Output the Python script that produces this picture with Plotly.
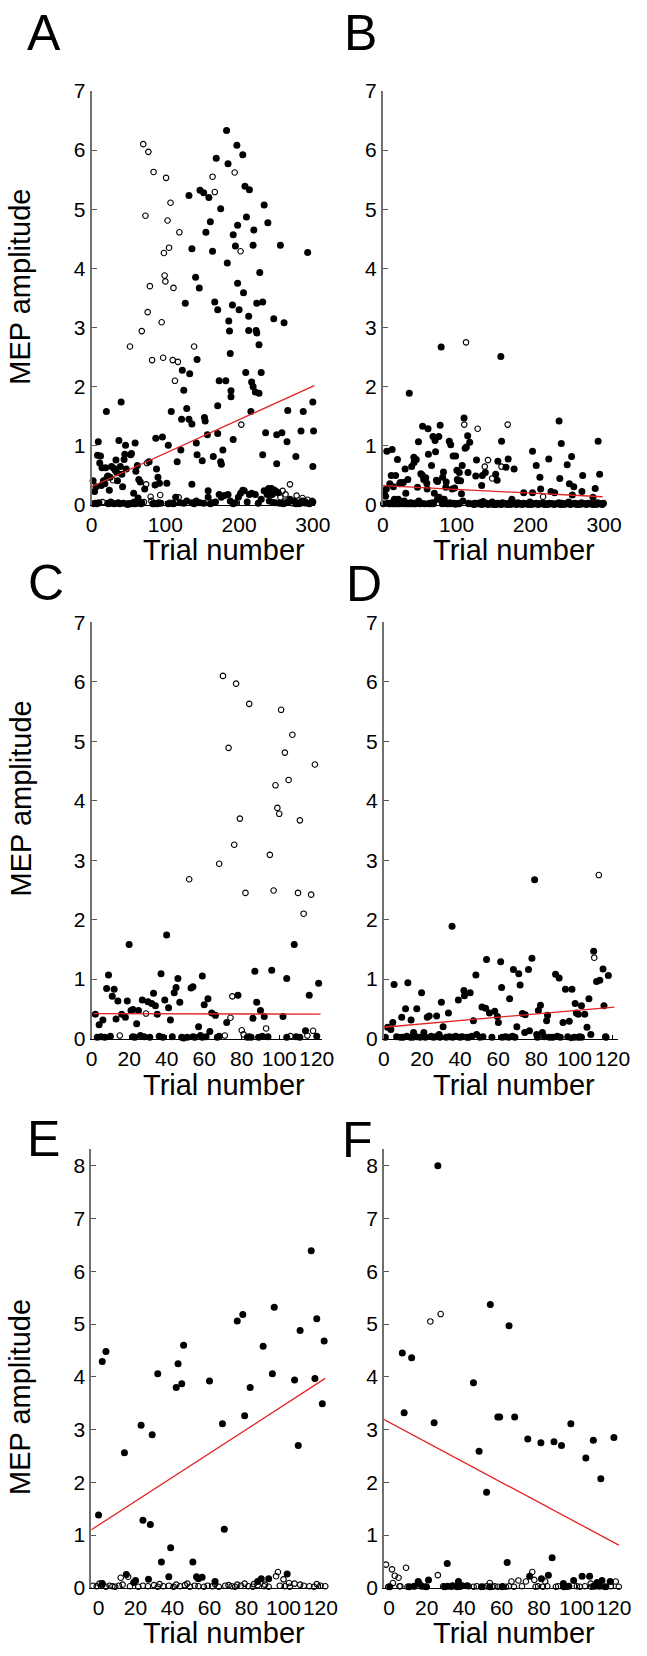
import plotly.graph_objects as go

W, H = 647, 1656
FONT = "Liberation Sans, Arial, sans-serif"
RED = "rgb(226,35,35)"

########## data ##########
# session 1, first 120 trials (panel C, also the start of panel A)
c_open_trial = [70, 77, 84, 73, 101, 107, 103, 119, 105, 98, 99, 100, 79, 111, 76, 95, 68, 52, 82, 97,
                110, 117, 113, 75, 74, 15, 71, 80, 81, 93, 106, 115, 118, 29]
c_open_mep = [6.10, 5.97, 5.63, 4.89, 5.53, 5.11, 4.81, 4.61, 4.35, 4.26, 3.88, 3.78, 3.70, 3.67, 3.26, 3.09, 2.94, 2.68, 2.45, 2.49,
              2.45, 2.42, 2.10, 0.71, 0.35, 0.05, 0.05, 0.14, 0.07, 0.17, 0.04, 0.05, 0.13, 0.42]
c_fill_trial = [2, 4, 6, 9, 8, 12, 11, 14, 13, 16, 18, 19, 20, 21, 22, 24, 25, 27, 30, 32,
                34, 33, 37, 35, 40, 39, 41, 42, 44, 45, 46, 47, 53, 54, 59, 60, 57, 62, 63, 64,
                66, 72, 78, 87, 88, 90, 92, 86, 96, 102, 104, 108, 116, 114, 121,
                3, 5, 7, 10, 22, 23, 26, 28, 31, 36, 38, 43, 48, 49, 51, 54, 55, 58, 59, 61,
                67, 68, 83, 84, 85, 89, 91, 94, 104, 109, 111, 120]
c_fill_mep = [0.41, 0.23, 0.31, 1.07, 0.84, 0.83, 0.71, 0.63, 0.33, 0.41, 0.36, 0.63, 1.58, 0.47, 0.49, 0.25, 0.47, 0.65, 0.62, 0.59,
              0.55, 0.76, 1.09, 0.41, 1.74, 0.65, 0.52, 0.31, 0.77, 0.86, 1.01, 0.61, 0.85, 0.87, 1.05, 0.57, 0.20, 0.67, 0.12, 0.43,
              0.39, 0.27, 0.73, 1.13, 0.61, 0.47, 0.37, 0.34, 1.15, 0.37, 1.01, 1.58, 0.73, 0.13, 0.93,
              0.02, 0.03, 0.02, 0.04, 0.03, 0.02, 0.05, 0.03, 0.02, 0.04, 0.02, 0.03, 0.02, 0.01, 0.02, 0.03, 0.02, 0.05, 0.02, 0.03,
              0.02, 0.04, 0.02, 0.03, 0.02, 0.02, 0.04, 0.03, 0.02, 0.03, 0.02, 0.04]

# session 1, trials after 120 (rest of panel A)
a_open_trial = [139, 164, 167, 194, 202, 203, 269, 242, 251, 259, 263, 256, 278, 286, 293, 299, 297, 272, 281, 289, 245, 262]
a_open_mep = [2.68, 5.55, 5.29, 5.62, 4.29, 1.36, 0.35, 0.18, 0.23, 0.24, 0.18, 0.13, 0.16, 0.12, 0.09, 0.07, 0.03, 0.03, 0.02, 0.03, 0.05, 0.06]
a_fill_trial = [183, 197, 205, 169, 185, 208, 214, 147, 152, 159, 132, 234, 175, 210, 161, 239, 198, 155, 220, 192,
                136, 164, 219, 195, 256, 293, 184, 228, 141, 146, 198, 206, 167, 232, 224, 127, 191, 171, 200, 213,
                247, 186, 261, 187, 213, 223, 224, 227, 188, 143, 123, 133, 230, 209, 173, 182, 125, 189, 217, 219,
                222, 227, 189, 122, 129, 132, 136, 153, 154, 171, 216, 266, 287, 300, 157, 171, 192, 236, 251, 258,
                284, 301, 142, 265, 178, 143, 150, 165, 175, 176, 232, 251, 277, 300, 136, 158,
                129, 136, 142, 147, 158, 164, 173, 176, 180, 185, 188, 195, 199, 202, 207, 214, 217, 222, 230, 234,
                238, 241, 245, 249, 264, 269, 274, 280, 286, 291, 298, 125, 139, 152, 161, 168, 192, 211, 226, 244,
                248, 253, 255, 260, 267, 277, 283, 289, 295, 300, 205, 240]
a_fill_mep = [6.33, 6.08, 5.92, 5.86, 5.77, 5.39, 5.33, 5.32, 5.28, 5.20, 5.23, 5.07, 5.01, 4.87, 4.79, 4.77, 4.73, 4.61, 4.65, 4.57,
              4.33, 4.29, 4.39, 4.38, 4.39, 4.27, 4.09, 3.93, 3.85, 3.67, 3.75, 3.59, 3.43, 3.43, 3.41, 3.41, 3.38, 3.30, 3.30, 3.19,
              3.15, 3.11, 3.08, 2.94, 2.95, 2.95, 2.91, 2.71, 2.56, 2.46, 2.28, 2.22, 2.24, 2.24, 2.10, 2.10, 1.94, 1.93, 2.08, 2.00,
              1.91, 1.89, 1.83, 1.45, 1.63, 1.45, 1.37, 1.48, 1.42, 1.68, 1.58, 1.60, 1.58, 1.74, 1.19, 1.21, 1.11, 1.22, 1.19, 1.22,
              1.25, 1.25, 1.05, 1.07, 0.93, 0.85, 0.75, 0.82, 0.73, 0.69, 0.85, 0.70, 0.82, 0.65, 0.35, 0.24,
              0.07, 0.04, 0.07, 0.04, 0.13, 0.04, 0.18, 0.13, 0.16, 0.18, 0.07, 0.04, 0.13, 0.20, 0.24, 0.18, 0.20, 0.18, 0.10, 0.24,
              0.18, 0.07, 0.18, 0.04, 0.04, 0.10, 0.07, 0.04, 0.07, 0.04, 0.04, 0.03, 0.02, 0.03, 0.02, 0.05, 0.02, 0.05, 0.03, 0.28,
              0.25, 0.21, 0.03, 0.02, 0.05, 0.02, 0.03, 0.06, 0.02, 0.05, 0.25, 0.28]

# session 2, first 120 trials (panel D, also the start of panel B)
d_open_trial = [112.8, 110.4, 13.8, 98.2]
d_open_mep = [2.75, 1.36, 0.02, 0.01]
d_fill_trial = [2.0, 3.7, 4.7, 5.4, 9.4, 11.4, 12.6, 14.3, 15.6, 17.3, 19.8, 21.0, 22.8, 23.8, 27.7, 29.0, 30.2, 31.1, 33.9, 35.8,
                39.1, 42.0, 42.3, 45.3, 47.0, 48.3, 48.7, 51.5, 53.4, 53.9, 55.4, 58.2, 59.6, 60.1, 61.3, 61.8, 66.0, 68.0, 69.8, 70.8,
                71.5, 72.7, 74.2, 73.9, 75.9, 76.4, 77.7, 79.1, 80.2, 81.1, 82.2, 83.2, 85.4, 85.9, 90.1, 92.0, 94.0, 95.3, 97.3, 98.7,
                100.4, 101.0, 102.0, 103.7, 105.4, 106.6, 107.6, 108.6, 110.1, 111.6, 113.3, 115.0, 115.5, 116.6, 117.8,
                0.8, 6.7, 8.7, 10.1, 12.1, 15.1, 17.1, 19.0, 21.8, 24.8, 26.0, 27.2, 29.4, 32.7, 34.4, 36.1, 37.8, 39.9, 41.1, 43.6,
                44.6, 46.2, 50.4, 52.0, 56.7, 62.1, 63.8, 65.5, 67.5, 68.8, 80.6, 84.3, 86.9, 88.6, 91.0, 92.6, 96.5, 99.9, 102.0, 102.7,
                103.7, 116.3]
d_fill_mep = [0.19, 0.15, 0.27, 0.91, 0.36, 0.50, 0.94, 0.31, 0.10, 0.50, 0.77, 0.10, 0.36, 0.38, 0.38, 0.07, 0.61, 0.20, 0.43, 1.89,
              0.65, 0.81, 0.72, 0.77, 0.30, 1.07, 0.07, 0.53, 0.51, 1.33, 0.43, 0.46, 0.37, 0.27, 1.29, 0.86, 0.67, 1.16, 0.20, 1.09,
              0.90, 0.42, 0.40, 0.10, 1.16, 0.13, 1.35, 2.67, 0.07, 0.47, 0.56, 0.10, 0.30, 0.39, 1.08, 1.02, 0.27, 0.83, 0.29, 0.83,
              0.59, 0.43, 0.41, 0.55, 0.41, 0.19, 0.67, 0.07, 1.47, 0.96, 0.98, 1.17, 0.55, 0.02, 1.06,
              0.02, 0.03, 0.02, 0.02, 0.04, 0.02, 0.03, 0.02, 0.02, 0.04, 0.02, 0.03, 0.02, 0.02, 0.03, 0.02, 0.04, 0.02, 0.03, 0.02,
              0.02, 0.04, 0.02, 0.03, 0.02, 0.02, 0.03, 0.02, 0.04, 0.02, 0.02, 0.03, 0.02, 0.02, 0.04, 0.02, 0.03, 0.02, 0.02, 0.03,
              0.02, 0.03]

# session 2, trials after 120 (rest of panel B)
b_open_trial = [128.6, 142.6, 138.2, 148.3, 160.9, 169.3, 217.3]
b_open_mep = [1.29, 0.76, 0.65, 0.45, 0.65, 1.36, 0.14]
b_fill_trial = [160, 239, 292, 203, 242, 161, 127, 170, 167, 156, 208, 225, 250, 256, 178, 126, 135, 139, 153, 155,
                213, 240, 253, 271, 294, 259, 288, 134, 191, 203, 214, 228, 233, 270, 257, 285, 175, 136,
                122, 125, 128.6, 131.6, 136, 140.4, 144.8, 148.3, 151.8, 155.7, 158.8, 162.3, 166.6, 171, 175.4, 179.7, 183.2, 187.2, 190.7, 195,
                199.4, 203.8, 208.2, 212.6, 217, 221.3, 225.7, 230, 234.5, 238.8, 243.2, 247.6, 252, 256.3, 260.7, 265, 269.5, 273.8, 278.2, 282.6,
                287, 291.3, 295.7, 299.2, 123.5, 127, 133.8, 138.2, 142.6, 146.5, 150, 153.7, 157.2, 160.5, 164.4, 168.8, 173.2, 177.5, 181.5, 185.2,
                189, 193, 197.2, 201.6, 206, 210.4, 214.8, 219.2, 223.5, 227.9, 232.2, 236.7, 241, 245.4, 249.8, 254.2, 258.5, 262.9, 267.2, 271.7,
                276, 280.4, 284.8, 289.2, 293.5, 297.5]
b_fill_mep = [2.51, 1.42, 1.08, 0.91, 1.04, 1.08, 0.76, 0.78, 0.64, 0.74, 0.67, 0.78, 0.68, 0.82, 0.61, 0.49, 0.50, 0.55, 0.52, 0.42,
              0.47, 0.45, 0.36, 0.50, 0.52, 0.31, 0.28, 0.33, 0.21, 0.21, 0.27, 0.23, 0.21, 0.23, 0.17, 0.13, 0.10, 0.06,
              0.02, 0.03, 0.02, 0.04, 0.02, 0.03, 0.02, 0.05, 0.02, 0.03, 0.02, 0.04, 0.02, 0.03, 0.02, 0.02, 0.04, 0.02, 0.03, 0.02,
              0.05, 0.02, 0.03, 0.02, 0.04, 0.02, 0.03, 0.02, 0.02, 0.04, 0.03, 0.02, 0.05, 0.02, 0.03, 0.02, 0.04, 0.02, 0.03, 0.02,
              0.02, 0.04, 0.02, 0.03, 0.01, 0.02, 0.01, 0.02, 0.01, 0.02, 0.01, 0.01, 0.02, 0.01, 0.02, 0.01, 0.01, 0.02, 0.01, 0.02,
              0.01, 0.02, 0.01, 0.01, 0.02, 0.01, 0.02, 0.01, 0.01, 0.02, 0.01, 0.02, 0.01, 0.01, 0.02, 0.01, 0.02, 0.01, 0.01, 0.02,
              0.01, 0.02, 0.01, 0.01, 0.02, 0.01]

# session 3 (panel E)
e_open_trial = [12, 16, 97, 100, 96, 103,
                -3, -1, 2, 4, 6, 7.5, 9, 11, 17, 21.5, 24, 26.7, 30, 32, 35, 38, 40.6, 44, 46.7, 49.4, 52, 54, 57, 59,
                61.6, 65, 68.5, 70.3, 72, 73.8, 77, 81, 83.4, 86, 89.5, 92, 98, 100.8, 103.4, 111, 114, 116.5, 120, 122.6,
                0.5, 13, 33, 42, 48, 63, 75, 79, 84, 90, 106, 109, 118]
e_open_mep = [0.19, 0.21, 0.30, 0.16, 0.22, 0.09,
              0.04, 0.03, 0.05, 0.02, 0.04, 0.03, 0.02, 0.04, 0.03, 0.02, 0.04, 0.03, 0.05, 0.02, 0.03, 0.04, 0.02, 0.03, 0.05, 0.02, 0.04, 0.03, 0.02, 0.04,
              0.03, 0.02, 0.04, 0.05, 0.03, 0.02, 0.04, 0.03, 0.02, 0.05, 0.03, 0.02, 0.04, 0.03, 0.02, 0.04, 0.03, 0.02, 0.04, 0.03,
              0.08, 0.06, 0.07, 0.06, 0.08, 0.07, 0.06, 0.08, 0.07, 0.06, 0.08, 0.06, 0.07]
e_fill_trial = [0, 2, 4, 14, 23, 24, 28, 29, 32, 34, 39, 43, 42, 45, 46, 51, 60, 67, 68, 75,
                78, 79, 82, 89, 94, 95, 106, 108, 109, 115, 117, 118, 122, 121,
                2, 15, 19, 20, 27, 38, 53, 54, 56, 63, 86, 88, 92, 102]
e_fill_mep = [1.38, 4.29, 4.48, 2.56, 3.08, 1.28, 1.20, 2.90, 4.06, 0.49, 0.76, 4.25, 3.80, 3.87, 4.60, 0.49, 3.92, 3.11, 1.11, 5.06,
              5.18, 3.26, 3.80, 4.58, 4.06, 5.32, 3.94, 2.70, 4.88, 6.39, 3.97, 5.10, 4.68, 3.49,
              0.08, 0.25, 0.10, 0.14, 0.16, 0.21, 0.21, 0.17, 0.20, 0.12, 0.12, 0.17, 0.17, 0.26]

# session 4 (panel F)
f_open_trial = [24, 22, 27.5, -1.7, 1.5, 3, 5, 9, 26, 76.4, 77.5, 83.3, 69, 73, 65.3, 53.7, 121, 107.6, 2, 6,
                -0.5, 5.5, 9.8, 13.3, 20.1, 28.8, 33.1, 34.8, 37.9, 42.5, 45.1, 46.8, 50.3, 52, 55.1, 56.3, 58, 60.6, 62.3, 64,
                66.6, 70.9, 78.2, 79.5, 82.1, 84.4, 89, 90.2, 94.7, 100.2, 101.9, 104.5, 107.9, 110.2, 114.8, 118.3, 122.6]
f_open_mep = [8.33, 5.05, 5.19, 0.44, 0.35, 0.23, 0.19, 0.38, 0.24, 0.30, 0.15, 0.12, 0.14, 0.12, 0.12, 0.09, 0.12, 0.08, 0.09, 0.03,
              0.02, 0.03, 0.02, 0.03, 0.02, 0.03, 0.02, 0.03, 0.02, 0.03, 0.02, 0.03, 0.02, 0.03, 0.02, 0.03, 0.02, 0.03, 0.02, 0.03,
              0.02, 0.03, 0.02, 0.03, 0.02, 0.03, 0.02, 0.03, 0.02, 0.03, 0.02, 0.03, 0.02, 0.03, 0.02, 0.03, 0.02]
f_fill_trial = [26, 7, 12, 8, 24, 45, 48, 52, 54, 58, 59, 64, 67, 74, 81, 88, 92, 97, 105, 109,
                113, 120, 31, 63, 87,
                21, 15.5, 37, 75, 81.3, 85, 93, 98.5, 103, 107, 113.6, 111, 118,
                0.3, 10.7, 13.3, 16.2, 17.5, 19.6, 29.6, 31.3, 33.9, 36.5, 39.1, 41.7, 49.3, 53.7, 60.3, 93.3, 95.9, 109.2, 112.3, 115.7]
f_fill_mep = [8.00, 4.45, 4.36, 3.32, 3.13, 3.89, 2.59, 1.81, 5.37, 3.24, 3.24, 4.97, 3.24, 2.82, 2.75, 2.77, 2.70, 3.11, 2.46, 2.80,
              2.07, 2.85, 0.46, 0.48, 0.57,
              0.15, 0.12, 0.12, 0.22, 0.17, 0.24, 0.08, 0.14, 0.22, 0.22, 0.14, 0.10, 0.12,
              0.02, 0.02, 0.03, 0.07, 0.03, 0.02, 0.02, 0.03, 0.04, 0.02, 0.04, 0.04, 0.02, 0.02, 0.02, 0.02, 0.03, 0.03, 0.03, 0.02]

# regression lines (end points)
fit_x = {"A": [0, 302], "B": [0, 298], "C": [1, 122], "D": [0, 121], "E": [-3.9, 122.6], "F": [-2.7, 122.6]}
fit_y = {"A": [0.31, 2.02], "B": [0.33, 0.14], "C": [0.42, 0.41], "D": [0.19, 0.53], "E": [1.10, 3.97], "F": [3.19, 0.81]}

x_ticks_long = [0, 100, 200, 300]
x_ticks_short = [0, 20, 40, 60, 80, 100, 120]
##############################################

# pixel boxes of each panel: (left, right), (top, bottom)
panels = {
    "A": dict(fx=c_fill_trial + a_fill_trial, fy=c_fill_mep + a_fill_mep,
              ox=c_open_trial + a_open_trial, oy=c_open_mep + a_open_mep,
              px=(88.5, 319.4), xr=[0, 303], py=(80, 500), yr=[0, 7], xt=x_ticks_long),
    "B": dict(fx=d_fill_trial + b_fill_trial, fy=d_fill_mep + b_fill_mep,
              ox=d_open_trial + b_open_trial, oy=d_open_mep + b_open_mep,
              px=(389.5, 620.4), xr=[0, 303], py=(80, 500), yr=[0, 7], xt=x_ticks_long),
    "C": dict(fx=c_fill_trial, fy=c_fill_mep, ox=c_open_trial, oy=c_open_mep,
              px=(88.5, 327), xr=[0, 123], py=(619, 1041), yr=[0, 7], xt=x_ticks_short),
    "D": dict(fx=d_fill_trial, fy=d_fill_mep, ox=d_open_trial, oy=d_open_mep,
              px=(390.5, 632.8), xr=[0, 123], py=(619, 1041), yr=[0, 7], xt=x_ticks_short),
    "E": dict(fx=e_fill_trial, fy=e_fill_mep, ox=e_open_trial, oy=e_open_mep,
              px=(88.2, 331.7), xr=[-3.9, 123.5], py=(1153, 1598), yr=[0, 8.32], xt=x_ticks_short),
    "F": dict(fx=f_fill_trial, fy=f_fill_mep, ox=f_open_trial, oy=f_open_mep,
              px=(390.8, 635.1), xr=[-2.7, 123.5], py=(1153, 1598), yr=[0, 8.32], xt=x_ticks_short),
}

fig = go.Figure()
layout = {}
for i, (key, p) in enumerate(panels.items(), start=1):
    sfx = "" if i == 1 else str(i)
    xa, ya = "x" + sfx, "y" + sfx
    fig.add_trace(go.Scatter(x=p["ox"], y=p["oy"], mode="markers", xaxis=xa, yaxis=ya,
                             marker=dict(symbol="circle-open", size=5.5, color="black", line=dict(width=1.1)),
                             cliponaxis=False, showlegend=False))
    fig.add_trace(go.Scatter(x=p["fx"], y=p["fy"], mode="markers", xaxis=xa, yaxis=ya,
                             marker=dict(symbol="circle", size=7, color="black", line=dict(width=0)),
                             cliponaxis=False, showlegend=False))
    fig.add_trace(go.Scatter(x=fit_x[key], y=fit_y[key], mode="lines", xaxis=xa, yaxis=ya,
                             line=dict(color=RED, width=1.3), cliponaxis=False, showlegend=False))
    yt = list(range(0, int(p["yr"][1]) + 1))
    layout["xaxis" + sfx] = dict(domain=[p["px"][0] / W, p["px"][1] / W], range=p["xr"], anchor=ya,
                                 showline=True, linecolor="black", linewidth=1, ticks="inside", ticklen=4,
                                 tickcolor="black", tickwidth=1, tickvals=p["xt"], tickangle=0,
                                 showgrid=False, zeroline=False, ticklabelstandoff=1,
                                 tickfont=dict(family=FONT, size=21, color="black"))
    layout["yaxis" + sfx] = dict(domain=[1 - p["py"][1] / H, 1 - p["py"][0] / H], range=p["yr"], anchor=xa,
                                 showline=True, linecolor="#707070", linewidth=2, ticks="inside", ticklen=5,
                                 tickcolor="#555555", tickwidth=1, tickvals=yt,
                                 showgrid=False, zeroline=False, ticklabelstandoff=0,
                                 tickfont=dict(family=FONT, size=21, color="black"))

annotations = []
letters = {"A": (39.5, 21.5), "B": (366.5, 21.5), "C": (41, 579.5), "D": (370, 580.5), "E": (39, 1142.5), "F": (363.5, 1143.5)}
for txt, (lx, ly) in letters.items():
    annotations.append(dict(text=txt, x=lx / W, y=1 - ly / H, xref="paper", yref="paper",
                            xanchor="center", yanchor="middle", showarrow=False,
                            font=dict(family=FONT, size=50, color="black")))
for cy in (279, 798, 1405):
    annotations.append(dict(text="MEP amplitude", x=15 / W, y=1 - cy / H, xref="paper", yref="paper",
                            xanchor="center", yanchor="middle", textangle=-90, showarrow=False,
                            font=dict(family=FONT, size=29, color="black")))
for cx in (225, 525):
    for cy in (546, 1088, 1644):
        annotations.append(dict(text="Trial number", x=cx / W, y=1 - cy / H, xref="paper", yref="paper",
                                xanchor="center", yanchor="middle", showarrow=False,
                                font=dict(family=FONT, size=29, color="black")))

fig.update_layout(width=W, height=H, margin=dict(l=0, r=0, t=0, b=0),
                  paper_bgcolor="white", plot_bgcolor="white",
                  annotations=annotations, **layout)
fig.write_html("out.html", config={"displayModeBar": False},
               post_script="document.body.style.margin='0px';")
